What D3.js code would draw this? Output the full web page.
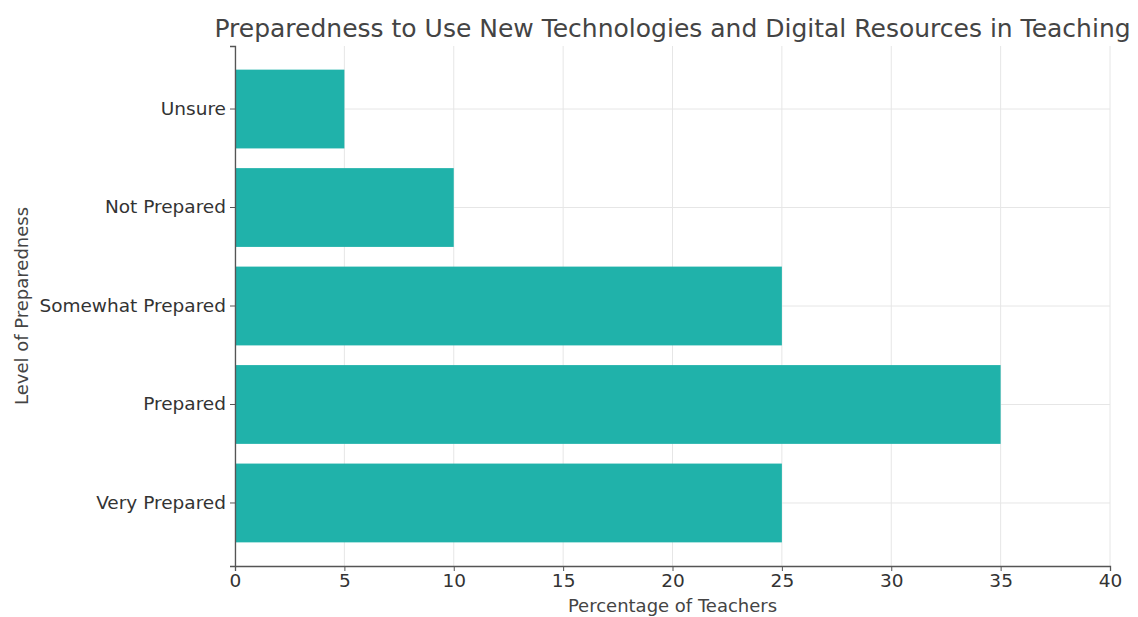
<!DOCTYPE html>
<html>
<head>
<meta charset="utf-8">
<script src="https://cdn.jsdelivr.net/npm/d3@7"></script>
<style>
  html, body { margin: 0; padding: 0; background: #fff; }
  svg { display: block; font-family: "DejaVu Sans", sans-serif; }
</style>
</head>
<body>
<svg id="chart" width="1138" height="617"></svg>
<script>
// Survey categories, top to bottom
const categories = ["Unsure", "Not Prepared", "Somewhat Prepared", "Prepared", "Very Prepared"];
// Share of teachers (%) per category
const percentages = [5, 10, 25, 35, 25];
const xTicks = [0, 5, 10, 15, 20, 25, 30, 35, 40];

const svg = d3.select("#chart");
const margin = { top: 46, right: 28, bottom: 51, left: 235 };
const W = 1138, H = 617;
const iw = W - margin.left - margin.right;
const ih = H - margin.top - margin.bottom;

const g = svg.append("g").attr("transform", `translate(${margin.left},${margin.top})`);

const x = d3.scaleLinear().domain([0, 40]).range([0, iw]);
// bars fill 0.8 of each step, with 0.24 step of padding at both ends
const y = d3.scaleBand().domain(categories)
  .range([0, ih])
  .paddingInner(0.2)
  .paddingOuter(0.24);

// gridlines
g.append("g").selectAll("line").data(xTicks).join("line")
  .attr("x1", d => x(d)).attr("x2", d => x(d))
  .attr("y1", 0).attr("y2", ih)
  .attr("stroke", "#e6e6e6").attr("stroke-width", 1);
g.append("g").selectAll("line").data(categories).join("line")
  .attr("x1", 0).attr("x2", iw)
  .attr("y1", d => y(d) + y.bandwidth() / 2).attr("y2", d => y(d) + y.bandwidth() / 2)
  .attr("stroke", "#e6e6e6").attr("stroke-width", 1);

// bars
g.append("g").selectAll("rect").data(categories).join("rect")
  .attr("x", 0)
  .attr("y", d => y(d))
  .attr("width", (d, i) => x(percentages[i]))
  .attr("height", y.bandwidth())
  .attr("fill", "#20b2aa");

// axes
const xAxis = g.append("g").attr("transform", `translate(0,${ih})`)
  .call(d3.axisBottom(x).tickValues(xTicks).tickSize(5).tickPadding(3));
const yAxis = g.append("g")
  .call(d3.axisLeft(y).tickSize(5).tickPadding(4));
[xAxis, yAxis].forEach(a => {
  a.select(".domain").attr("stroke", "#555").attr("stroke-width", 1.3);
  a.selectAll(".tick line").attr("stroke", "#555");
  a.selectAll(".tick text").attr("fill", "#333").style("font-size", "18.5px")
    .style("font-family", "'DejaVu Sans', sans-serif");
});

// titles
svg.append("text")
  .attr("x", margin.left + iw / 2).attr("y", 37)
  .attr("text-anchor", "middle")
  .attr("fill", "#444").style("font-size", "25px")
  .text("Preparedness to Use New Technologies and Digital Resources in Teaching");
svg.append("text")
  .attr("x", margin.left + iw / 2).attr("y", 612)
  .attr("text-anchor", "middle")
  .attr("fill", "#444").style("font-size", "18px")
  .text("Percentage of Teachers");
svg.append("text")
  .attr("transform", `translate(28,${margin.top + ih / 2}) rotate(-90)`)
  .attr("text-anchor", "middle")
  .attr("fill", "#444").style("font-size", "18px")
  .text("Level of Preparedness");
</script>
</body>
</html>
